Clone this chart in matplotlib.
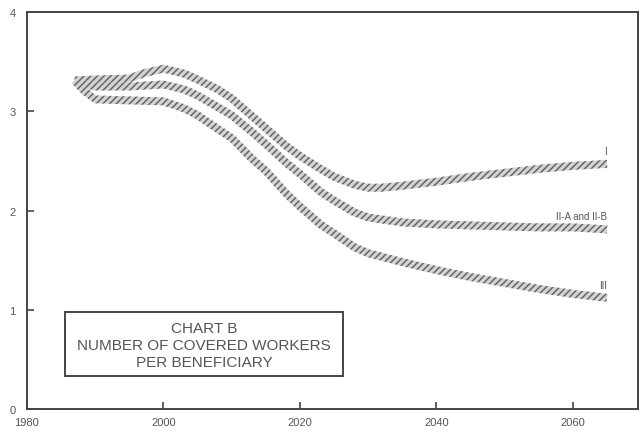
import numpy as np
import matplotlib
matplotlib.use("Agg")
import matplotlib.pyplot as plt
from matplotlib.patches import Polygon, Rectangle

plt.rcParams['font.family'] = ['Liberation Sans', 'DejaVu Sans']
plt.rcParams['hatch.linewidth'] = 1.1

# alternative I
years_1 = [1987, 1990, 1995, 1997, 2000, 2003, 2005, 2008, 2010, 2013, 2015, 2018, 2020,
           2023, 2025, 2028, 2030, 2032, 2035, 2040, 2045, 2050, 2055, 2060, 2065]
ratio_1 = [3.31, 3.32, 3.33, 3.38, 3.43, 3.38, 3.32, 3.22, 3.13, 2.95, 2.83, 2.65, 2.55,
           2.42, 2.34, 2.26, 2.23, 2.23, 2.25, 2.29, 2.34, 2.38, 2.42, 2.45, 2.47]

# alternatives II-A and II-B
years_2 = [1987.5, 1990, 1995, 2000, 2003, 2005, 2008, 2010, 2013, 2015, 2018, 2020,
           2023, 2025, 2028, 2030, 2035, 2040, 2045, 2050, 2055, 2060, 2065]
ratio_2 = [3.29, 3.25, 3.25, 3.27, 3.22, 3.16, 3.04, 2.96, 2.79, 2.67, 2.48, 2.37,
           2.19, 2.10, 1.98, 1.93, 1.88, 1.86, 1.85, 1.84, 1.83, 1.83, 1.81]

# alternative III
years_3 = [1987, 1988.5, 1990, 1995, 2000, 2003, 2005, 2008, 2010, 2013, 2015, 2018, 2020,
           2023, 2025, 2028, 2030, 2035, 2040, 2045, 2050, 2055, 2060, 2065]
ratio_3 = [3.31, 3.20, 3.12, 3.11, 3.10, 3.03, 2.96, 2.82, 2.73, 2.52, 2.40, 2.17, 2.04,
           1.86, 1.77, 1.63, 1.57, 1.48, 1.40, 1.33, 1.27, 1.21, 1.16, 1.12]

labels = ['I', 'II-A and II-B', 'III']
xticks = [1980, 2000, 2020, 2040, 2060]
yticks = [0, 1, 2, 3, 4]

fig = plt.figure(figsize=(6.41, 4.35), dpi=100)
ax = fig.add_axes([0.042, 0.0575, 0.953, 0.9125])
ax.set_xlim(1980, 2069.5)
ax.set_ylim(0, 4)

grey = '#555555'
for s in ax.spines.values():
    s.set_color('#444444')
    s.set_linewidth(1.4)

ax.set_xticks(xticks)
ax.set_yticks(yticks)
ax.set_xticklabels([str(t) for t in xticks])
ax.tick_params(axis='both', direction='in', length=5, width=1.2, colors='#444444',
               labelcolor=grey, labelsize=8)
ax.tick_params(axis='x', pad=6)
ax.tick_params(axis='y', pad=8)


def band(x, y, half=4.0):
    # hatched band of constant width in pixels along the curve
    pts = ax.transData.transform(np.column_stack([x, y]))
    d = np.gradient(pts, axis=0)
    d /= np.linalg.norm(d, axis=1)[:, None]
    n = np.column_stack([-d[:, 1], d[:, 0]])
    upper = pts + n * half
    lower = pts - n * half
    poly = np.vstack([upper, lower[::-1]])
    poly = ax.transData.inverted().transform(poly)
    p = Polygon(poly, closed=True, facecolor='#d4d4d4', edgecolor='#666666',
                hatch='/////', linewidth=0)
    ax.add_patch(p)


band(years_1, ratio_1)
band(years_2, ratio_2)
band(years_3, ratio_3)

ax.text(2065, ratio_1[-1] + 0.08, labels[0], ha='right', va='bottom', fontsize=7, color=grey)
ax.text(2065, ratio_2[-1] + 0.08, labels[1], ha='right', va='bottom', fontsize=7, color=grey)
ax.text(2065, ratio_3[-1] + 0.08, labels[2], ha='right', va='bottom', fontsize=7, color=grey)

ax.add_patch(Rectangle((0.062, 0.083), 0.455, 0.161, transform=ax.transAxes,
                       facecolor='white', edgecolor='#444444', linewidth=1.4))
ax.text(0.29, 0.161, 'CHART B\nNUMBER OF COVERED WORKERS\nPER BENEFICIARY',
        transform=ax.transAxes, ha='center', va='center', fontsize=11,
        color=grey, linespacing=1.25)

fig.savefig('out.png', dpi=100)
